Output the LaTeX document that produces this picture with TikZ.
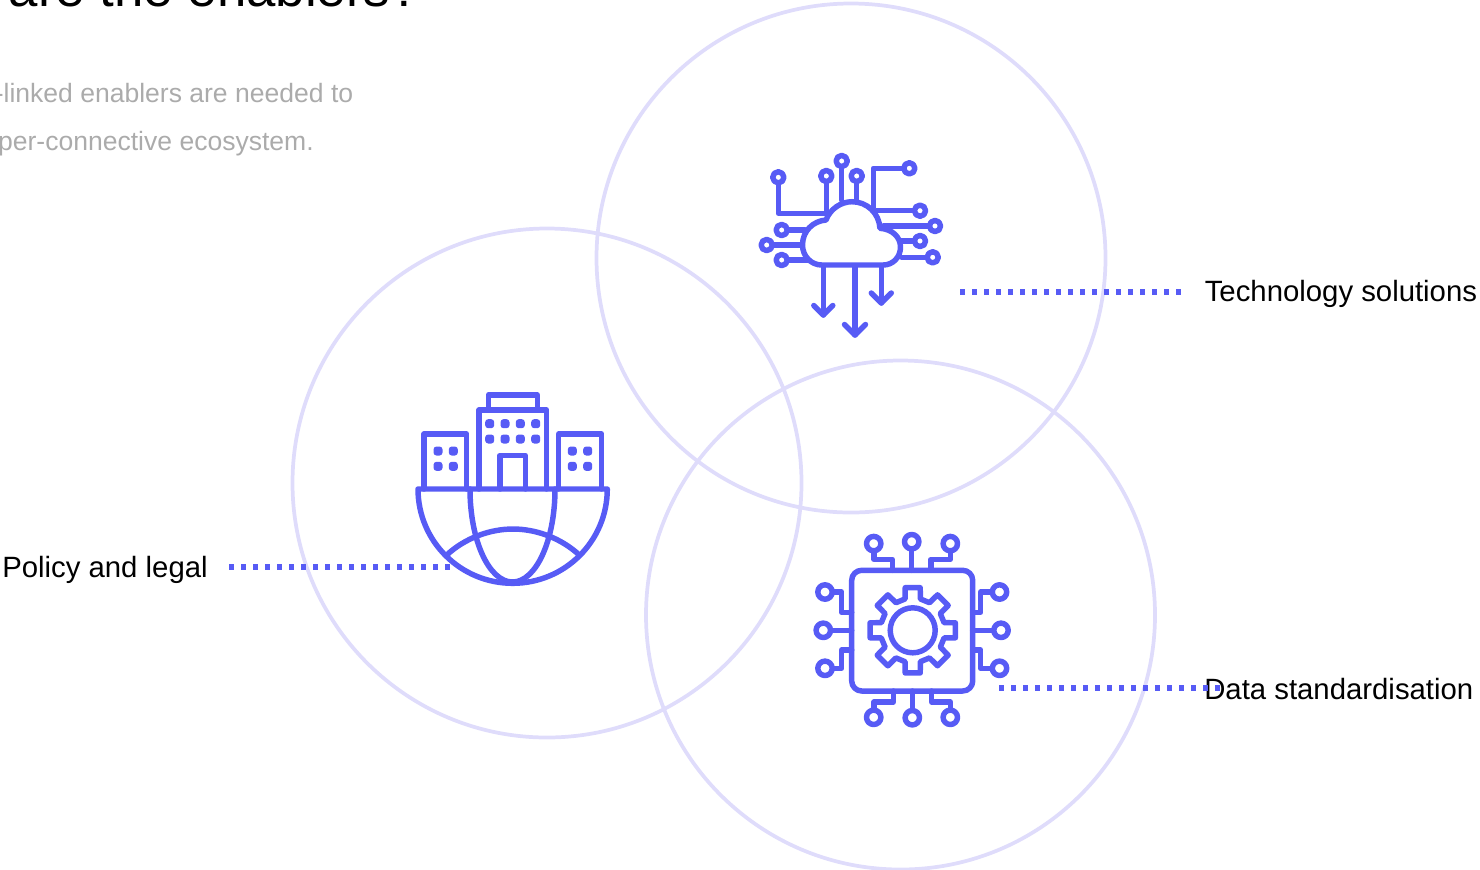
\documentclass[tikz,border=0pt]{standalone}
\usepackage{fontspec}
\setmainfont{Liberation Sans}
\usetikzlibrary{positioning}
\definecolor{iconblue}{HTML}{575BF5}
\definecolor{ringlilac}{HTML}{DFDCFB}
\definecolor{bodygrey}{HTML}{ABABAB}
\tikzset{
	ring/.style={draw=ringlilac,line width=2.8pt},
	icon/.style={draw=iconblue,line width=4.1pt,line join=round,line cap=round},
	pin/.style={icon,fill=white},
	dotline/.style={draw=iconblue,line width=4pt,dash pattern=on 4pt off 5pt},
	title/.style={anchor=base east,inner sep=0pt,font=\fontsize{39.6}{44}\selectfont},
	body/.style={anchor=base east,inner sep=0pt,text=bodygrey,font=\fontsize{19.9}{24}\selectfont},
	label/.style={anchor=base west,inner sep=0pt,font=\fontsize{22}{26}\selectfont},
}
\begin{document}
\begin{tikzpicture}[x=0.75pt,y=-0.75pt]
	\useasboundingbox (0,0) rectangle (1480,869);
	\clip (0,0) rectangle (1480,869);
	% rings
	\draw[ring] (851,258) circle[radius=254.5];
	\draw[ring] (547,483) circle[radius=254.5];
	\draw[ring] (900.5,615) circle[radius=254.5];
	% texts
	\node[title] (head) at (420,6) {are the enablers?};
	\node[body] (bodya) at (353.5,102) {-linked enablers are needed to};
	\node[body] (bodyb) at (314,150) {per-connective ecosystem.};
	\node[label] (tech) at (1204.5,301) {Technology solutions};
	\node[label] (policy) at (2,577) {Policy and legal};
	\node[label] (data) at (1204,699) {Data standardisation};
	% dotted leaders
	\coordinate (techa) at (960,292);
	\coordinate (techb) at (1184,292);
	\coordinate (policya) at (229,567);
	\coordinate (policyb) at (452,567);
	\coordinate (dataa) at (999,688);
	\coordinate (datab) at (1224,688);
	\draw[dotline] (techa) -- (techb);
	\draw[dotline] (policya) -- (policyb);
	\draw[dotline] (dataa) -- (datab);
	% cloud
	\draw[icon] (778.3,177.3) -- (778.3,213.3) -- (825,213.3);
	\draw[icon] (826.3,176) -- (826.3,212);
	\draw[icon] (841.7,161) -- (841.7,200);
	\draw[icon] (856.7,176) -- (856.7,200);
	\draw[icon] (909.3,168.3) -- (873.3,168.3) -- (873.3,208);
	\draw[icon] (920,210.7) -- (876.7,210.7);
	\draw[icon] (935,226) -- (883.3,226);
	\draw[icon] (920,241) -- (900,241);
	\draw[icon] (932.7,257.3) -- (901.7,257.3);
	\draw[icon] (781.7,230) -- (805,230);
	\draw[icon] (766.7,245) -- (803,245);
	\draw[icon] (781.7,260) -- (810,260);
	\draw[icon] (823.3,264) -- (823.3,315);
	\draw[icon] (813.8,305.5) -- (823.3,315) -- (832.8,305.5);
	\draw[icon] (855,264) -- (855,335);
	\draw[icon] (844.5,324.5) -- (855,335) -- (865.5,324.5);
	\draw[icon] (881.3,264) -- (881.3,303);
	\draw[icon] (871.3,293) -- (881.3,303) -- (891.3,293);
	\draw[pin] (821.7,265) .. controls (811,265) and (802.5,256) .. (802.5,245)
		.. controls (802.5,231) and (813,221) .. (826,220)
		.. controls (830,209) and (841,201.7) .. (852,201.7)
		.. controls (867,201.7) and (879,213) .. (880,228.3)
		.. controls (892,229) and (900.5,237) .. (900.5,247)
		.. controls (900.5,257) and (893,265) .. (883.3,265) -- cycle;
	\foreach \px/\py in {778.3/177.3,826.3/176,841.7/161,856.7/176,909.3/168.3,920/210.7,935/226,920/241,932.7/257.3,781.7/230,766.7/245,781.7/260}
		\draw[pin] (\px,\py) circle[radius=5.6];
	% city and globe
	\draw[icon] (488.3,408.3) -- (488.3,395) -- (537.3,395) -- (537.3,408.3);
	\draw[icon] (479,489) -- (479,410) -- (546.7,410) -- (546.7,489);
	\draw[icon] (424,489) -- (424,434) -- (466.7,434) -- (466.7,489);
	\draw[icon] (558.7,489) -- (558.7,434) -- (601.7,434) -- (601.7,489);
	\draw[icon] (500,489) -- (500,455.3) -- (525.3,455.3) -- (525.3,489);
	\foreach \px in {489.7,505,520.3,535.7}
		\foreach \py in {423.7,439}
			\fill[iconblue,rounded corners=2.2pt] (\px-4.5,\py-4.5) rectangle (\px+4.5,\py+4.5);
	\foreach \px in {438,453.3,572.3,587.7}
		\foreach \py in {451,466.3}
			\fill[iconblue,rounded corners=2.2pt] (\px-4.5,\py-4.5) rectangle (\px+4.5,\py+4.5);
	\draw[icon] (418,489) -- (607.3,489) arc[start angle=0,end angle=180,x radius=94.65,y radius=94.3];
	\draw[icon] (470,489) arc[start angle=180,end angle=0,x radius=42.5,y radius=93];
	\draw[icon] (446.7,555) .. controls (465,538) and (490,529) .. (513,529)
		.. controls (536,529) and (561,538) .. (579.3,555);
	% chip
	\draw[icon,rounded corners=7.5pt] (851.7,570.3) rectangle (972.7,691);
	\draw[icon] (874,549) -- (874,559.3) -- (892.3,559.3) -- (892.3,570.3);
	\draw[icon] (911.7,548) -- (911.7,570.3);
	\draw[icon] (950.3,549) -- (950.3,559.3) -- (931,559.3) -- (931,570.3);
	\draw[icon] (874,711) -- (874,702) -- (893.3,702) -- (893.3,691);
	\draw[icon] (912.3,711) -- (912.3,691);
	\draw[icon] (950.3,711) -- (950.3,702) -- (931.7,702) -- (931.7,691);
	\draw[icon] (825,592) -- (841.7,592) -- (841.7,612.3) -- (851.7,612.3);
	\draw[icon] (823.3,630.3) -- (851.7,630.3);
	\draw[icon] (825,668.3) -- (841.7,668.3) -- (841.7,650) -- (851.7,650);
	\draw[icon] (999,592) -- (980.7,592) -- (980.7,612.3) -- (972.7,612.3);
	\draw[icon] (1001,630.3) -- (972.7,630.3);
	\draw[icon] (999,668.3) -- (980.7,668.3) -- (980.7,650) -- (972.7,650);
	\foreach \px/\py in {873.7/543.6,911.7/541.7,950.3/543.6,873.7/717.3,912.3/717.7,950.3/717.3,825/592,823.3/630.3,825/668.3,999.5/592,1001/630.3,999.5/668.3}
		\draw[pin] (\px,\py) circle[radius=7.2];
	\begin{scope}[shift={(912.7,630.3)}]
		\draw[icon] (0,0) circle[radius=22.5];
		\draw[icon] (-13.7:32.3) \foreach \toothangle in {0,45,...,315} {
			-- (\toothangle-13.7:32.3) -- (\toothangle-10:43.3) -- (\toothangle+10:43.3) -- (\toothangle+13.7:32.3)
		} -- cycle;
	\end{scope}
\end{tikzpicture}
\end{document}
